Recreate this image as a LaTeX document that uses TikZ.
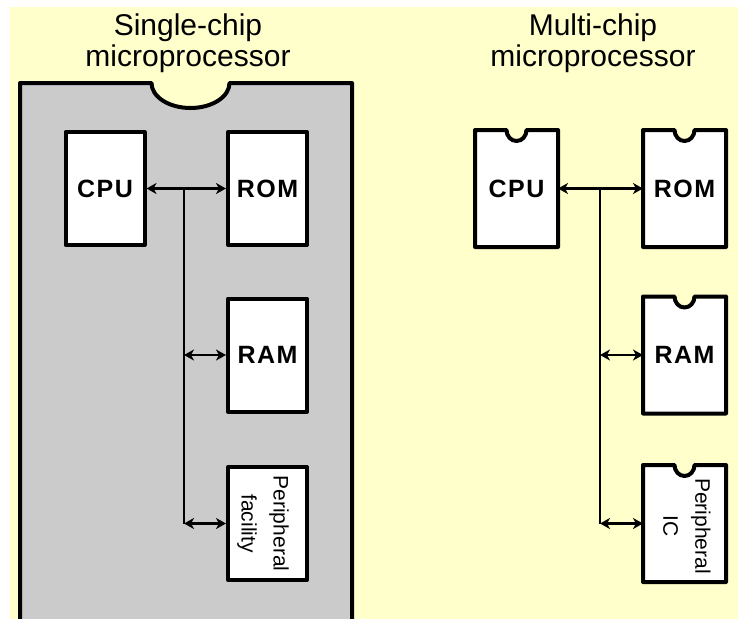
\documentclass[tikz,border=0pt]{standalone}
\usepackage{fontspec}
\setmainfont{Liberation Sans}
\usetikzlibrary{arrows.meta}
\definecolor{paper}{HTML}{FFFFCC}
\definecolor{chipgray}{HTML}{CBCBCB}
% outline of a small IC package with its notch on top
\newcommand\icoutline[1]{%
  \fill[paper] ([xshift=-10pt]#1.north) arc[start angle=180,end angle=0,x radius=10,y radius=11] -- cycle;
  \draw[icline] (#1.north west) -- ([xshift=-10pt]#1.north)
    arc[start angle=180,end angle=0,x radius=10,y radius=11]
    -- (#1.north east) -- (#1.south east) -- (#1.south west) -- cycle;}

\begin{document}
\begin{tikzpicture}[x=1pt,y=-1pt,line join=round,
	box/.style={minimum width=79pt,minimum height=113pt,inner sep=0pt,fill=white,draw,line width=4pt,
		font=\fontsize{25}{28}\selectfont\bfseries\addfontfeature{LetterSpace=6}},
	ic/.style={minimum width=79pt,minimum height=113pt,inner sep=0pt,outer sep=2pt,fill=white,
		font=\fontsize{25}{28}\selectfont\bfseries\addfontfeature{LetterSpace=6}},
	icline/.style={line width=4pt},
	side/.style={rotate=-90,align=center,inner sep=0pt,font=\fontsize{21}{32}\selectfont},
	title/.style={align=center,font=\fontsize{30}{31}\selectfont},
	bus/.style={line width=2.6pt},
	link/.style={bus,{Stealth[length=10pt,width=11pt,inset=3pt]}-{Stealth[length=10pt,width=11pt,inset=3pt]}}]
	\useasboundingbox (0,0) rectangle (740,619);
	\fill[paper] (10,7) rectangle (738,619);
	% single-chip package
	\def\notch{(151.5,83) arc[start angle=180,end angle=0,x radius=39,y radius=25]}
	\fill[chipgray] (20,619) -- (20,83) -- \notch -- (352,83) -- (352,619) -- cycle;
	\draw[line width=4pt] (20,619) -- (20,83) -- \notch -- (352,83) -- (352,619);
	\node[title] (titleL) at (188,43) {Single-chip\\microprocessor};
	\node[title] (titleR) at (593,43) {Multi-chip\\microprocessor};
	% blocks inside the chip
	\node[box] (cpuL) at (105,188.5) {CPU};
	\node[box] (romL) at (267.5,188.5) {ROM};
	\node[box] (ramL) at (267.5,355) {RAM};
	\node[box] (perL) at (267.5,523.5) {};
	\node[side] (perLtxt) at (263,523.5) {Peripheral\\facility};
	\coordinate (busL) at (184,0);
	\draw[link] (cpuL) -- (romL);
	\draw[bus] (cpuL -| busL) -- (perL -| busL);
	\draw[link] (ramL -| busL) -- (ramL.west);
	\draw[link] (perL -| busL) -- (perL.west);
	% separate ICs
	\node[ic] (cpuR) at (516.5,188.5) {CPU};
	\node[ic] (romR) at (684.5,188.5) {ROM};
	\node[ic] (ramR) at (684.5,355) {RAM};
	\node[ic] (perR) at (684.5,523.5) {};
	\node[side] (perRtxt) at (687,526) {Peripheral\\IC};
	\foreach \c in {cpuR,romR,ramR,perR} {\icoutline{\c}}
	\coordinate (busR) at (600,0);
	\draw[link] (cpuR) -- (romR);
	\draw[bus] (cpuR -| busR) -- (perR -| busR);
	\draw[link] (ramR -| busR) -- (ramR.west);
	\draw[link] (perR -| busR) -- (perR.west);
\end{tikzpicture}
\end{document}
